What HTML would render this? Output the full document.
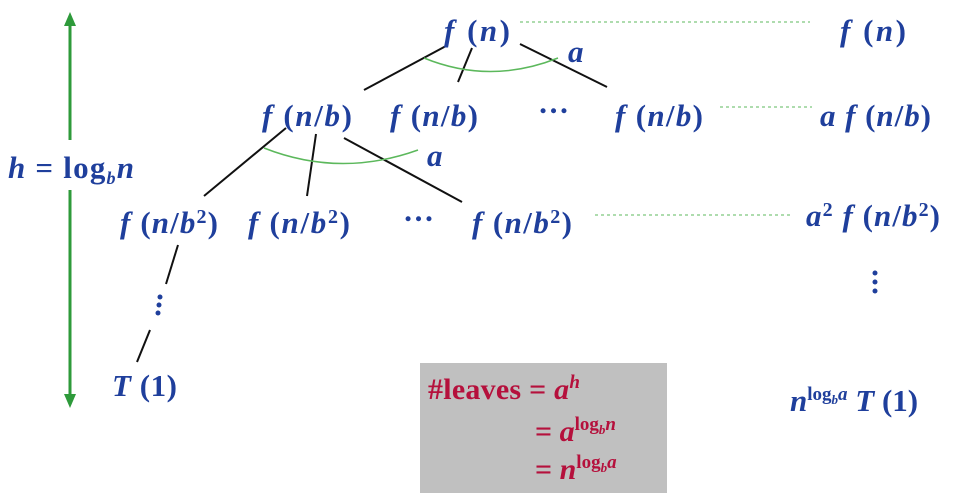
<!DOCTYPE html>
<html><head><meta charset="utf-8"><style>
html,body{margin:0;padding:0;background:#fff;}
svg{display:block;}
text{font-family:"Liberation Serif",serif;font-weight:bold;}
.b{fill:#1f3f9c;font-size:31px;}
.r{fill:#b5103c;font-size:30px;}
.it{font-style:italic;}
</style></head><body>
<svg width="959" height="503" viewBox="0 0 959 503">
<g stroke="#2e9a3a" stroke-width="3" fill="#2e9a3a">
<line x1="70" y1="22" x2="70" y2="140"/><line x1="70" y1="190" x2="70" y2="398"/>
<polygon points="70,12 64,26 76,26" stroke="none"/><polygon points="70,408 64,394 76,394" stroke="none"/>
</g>
<text class="b" x="8" y="178" textLength="126" lengthAdjust="spacing"><tspan class="it">h</tspan> = log<tspan font-size="18" dy="6" class="it">b</tspan><tspan dy="-6" class="it">n</tspan></text>

<g stroke="#111" stroke-width="2">
<line x1="446" y1="46" x2="364" y2="90"/><line x1="472" y1="48" x2="458" y2="82"/><line x1="520" y1="44" x2="607" y2="87"/>
<line x1="286" y1="128" x2="204" y2="196"/><line x1="316" y1="134" x2="307" y2="196"/><line x1="344" y1="138" x2="462" y2="202"/>
<line x1="178" y1="245" x2="166" y2="284"/><line x1="150" y1="330" x2="137" y2="362"/>
</g>
<g stroke="#5cb85c" stroke-width="1.5" fill="none">
<path d="M424,58 Q490,85 558,58"/><path d="M264,148 Q340,178 418,150"/>
</g>
<text class="b it" x="568" y="62">a</text>
<text class="b it" x="427" y="166">a</text>

<g stroke="#5cb85c" stroke-width="1" stroke-dasharray="3,3">
<line x1="520" y1="22" x2="810" y2="22"/><line x1="720" y1="107" x2="812" y2="107"/><line x1="595" y1="215" x2="790" y2="215"/>
</g>

<text class="b" x="444" y="41" textLength="66" lengthAdjust="spacing"><tspan class="it">f</tspan> (<tspan class="it">n</tspan>)</text>
<text class="b" x="262" y="126" textLength="90" lengthAdjust="spacing"><tspan class="it">f</tspan> (<tspan class="it">n</tspan>/<tspan class="it">b</tspan>)</text>
<text class="b" x="390" y="126" textLength="88" lengthAdjust="spacing"><tspan class="it">f</tspan> (<tspan class="it">n</tspan>/<tspan class="it">b</tspan>)</text>
<text class="b" x="538" y="113">…</text>
<text class="b" x="615" y="126" textLength="88" lengthAdjust="spacing"><tspan class="it">f</tspan> (<tspan class="it">n</tspan>/<tspan class="it">b</tspan>)</text>
<text class="b" x="120" y="233" textLength="98" lengthAdjust="spacing"><tspan class="it">f</tspan> (<tspan class="it">n</tspan>/<tspan class="it">b</tspan><tspan font-size="20" dy="-10">2</tspan><tspan dy="10">)</tspan></text>
<text class="b" x="248" y="233" textLength="102" lengthAdjust="spacing"><tspan class="it">f</tspan> (<tspan class="it">n</tspan>/<tspan class="it">b</tspan><tspan font-size="20" dy="-10">2</tspan><tspan dy="10">)</tspan></text>
<text class="b" x="403" y="221">…</text>
<text class="b" x="472" y="233" textLength="100" lengthAdjust="spacing"><tspan class="it">f</tspan> (<tspan class="it">n</tspan>/<tspan class="it">b</tspan><tspan font-size="20" dy="-10">2</tspan><tspan dy="10">)</tspan></text>
<g fill="#1f3f9c"><circle cx="160" cy="297" r="2.5"/><circle cx="159" cy="305" r="2.5"/><circle cx="158" cy="313" r="2.5"/></g>
<text class="b" x="112" y="396" textLength="65" lengthAdjust="spacing"><tspan class="it">T</tspan> (1)</text>

<text class="b" x="840" y="41" textLength="66" lengthAdjust="spacing"><tspan class="it">f</tspan> (<tspan class="it">n</tspan>)</text>
<text class="b" x="820" y="126" textLength="111" lengthAdjust="spacing"><tspan class="it">a f</tspan> (<tspan class="it">n</tspan>/<tspan class="it">b</tspan>)</text>
<text class="b" x="806" y="226" textLength="134" lengthAdjust="spacing"><tspan class="it">a</tspan><tspan font-size="20" dy="-10">2</tspan><tspan dy="10" class="it"> f</tspan> (<tspan class="it">n</tspan>/<tspan class="it">b</tspan><tspan font-size="20" dy="-10">2</tspan><tspan dy="10">)</tspan></text>
<g fill="#1f3f9c"><circle cx="875" cy="273" r="2.5"/><circle cx="875" cy="282" r="2.5"/><circle cx="875" cy="291" r="2.5"/></g>
<text class="b" x="790" y="411"><tspan class="it">n</tspan><tspan font-size="19" dy="-11">log</tspan><tspan font-size="13" dy="4" class="it">b</tspan><tspan font-size="19" dy="-4" class="it">a</tspan><tspan dy="11" class="it"> T</tspan> (1)</text>

<g>
<rect x="420" y="363" width="247" height="130" fill="#c0c0c0"/>
<text class="r" x="428" y="399" textLength="152" lengthAdjust="spacing"><tspan>#leaves = </tspan><tspan class="it">a</tspan><tspan font-size="19" dy="-11" class="it">h</tspan></text>
<text class="r" x="535" y="441">= <tspan class="it">a</tspan><tspan font-size="19" dy="-11">log</tspan><tspan font-size="13" dy="4" class="it">b</tspan><tspan font-size="19" dy="-4" class="it">n</tspan></text>
<text class="r" x="535" y="479">= <tspan class="it">n</tspan><tspan font-size="19" dy="-11">log</tspan><tspan font-size="13" dy="4" class="it">b</tspan><tspan font-size="19" dy="-4" class="it">a</tspan></text>
</g>
</svg>
</body></html>
